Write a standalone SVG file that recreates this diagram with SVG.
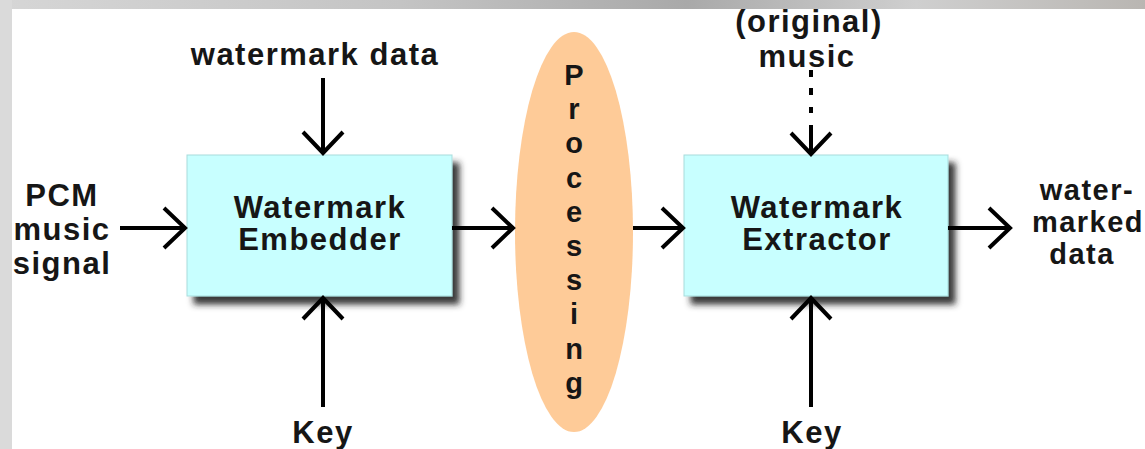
<svg xmlns="http://www.w3.org/2000/svg" width="1145" height="449" viewBox="0 0 1145 449">
<defs>
<style>
.t{font-family:"Liberation Sans",Arial,Helvetica,sans-serif;font-weight:bold;font-size:31px;letter-spacing:1.5px;fill:#161616;text-anchor:middle}
.o{font-size:29px}
.p{font-family:"Liberation Sans",Arial,Helvetica,sans-serif;font-weight:bold;font-size:29px;fill:#161616;text-anchor:middle}
.box{fill:#c8ffff;stroke:#a8dcdc;stroke-width:1;filter:url(#sh)}
.c{stroke:#000;stroke-width:4;fill:none}
</style>
<linearGradient id="band" x1="0" x2="1" y1="0" y2="0">
<stop offset="0" stop-color="#d6d6d6"/>
<stop offset="0.35" stop-color="#c4c4c4"/>
<stop offset="0.6" stop-color="#a9a9a9"/>
<stop offset="0.8" stop-color="#cfcfcf"/>
<stop offset="1" stop-color="#b9b6b2"/>
</linearGradient>
<filter id="sh" x="-10%" y="-10%" width="130%" height="140%">
<feDropShadow dx="7" dy="8" stdDeviation="3" flood-color="#222" flood-opacity="0.9"/>
</filter>
<marker id="ah" markerUnits="userSpaceOnUse" markerWidth="50" markerHeight="50" refX="0" refY="0" viewBox="-25 -25 50 50" orient="auto" overflow="visible">
<path d="M-21,-20 L0,0 L-21,20" stroke="#000" stroke-width="4" fill="none"/>
</marker>
</defs>
<rect x="0" y="0" width="1145" height="449" fill="#ffffff"/>
<rect x="0" y="0" width="1145" height="9" fill="url(#band)"/>
<rect x="0" y="0" width="12" height="449" fill="#dadada"/>

<g id="embedder">
<rect class="box" x="187" y="155" width="265" height="141"/>
<text class="t" x="320" y="218">Watermark</text>
<text class="t" x="320" y="250">Embedder</text>
</g>
<g id="extractor">
<rect class="box" x="684" y="155" width="264" height="141"/>
<text class="t" x="817" y="218">Watermark</text>
<text class="t" x="817" y="250">Extractor</text>
</g>
<g id="processing">
<ellipse cx="574" cy="232" rx="59" ry="200" fill="#fecb98"/>
<text class="p" x="574" y="85">P</text>
<text class="p" x="574" y="119">r</text>
<text class="p" x="574" y="153">o</text>
<text class="p" x="574" y="188">c</text>
<text class="p" x="574" y="222">e</text>
<text class="p" x="574" y="256">s</text>
<text class="p" x="574" y="290">s</text>
<text class="p" x="574" y="324">i</text>
<text class="p" x="574" y="359">n</text>
<text class="p" x="574" y="393">g</text>
</g>
<g id="input-pcm">
<text class="t" x="62" y="206">PCM</text>
<text class="t" x="62" y="240">music</text>
<text class="t" x="62" y="274">signal</text>
</g>
<g id="input-watermark-data">
<text class="t" x="315" y="65">watermark data</text>
</g>
<g id="input-original-music">
<text class="t" x="809" y="32">(original)</text>
<text class="t" x="807" y="67">music</text>
</g>
<g id="key-embed">
<text class="t" x="323" y="443">Key</text>
</g>
<g id="key-extract">
<text class="t" x="812" y="443">Key</text>
</g>
<g id="output">
<text class="t o" x="1087" y="200">water-</text>
<text class="t o" x="1088" y="232">marked</text>
<text class="t o" x="1082" y="264">data</text>
</g>

<g id="connectors">
<line class="c" x1="120" y1="228" x2="185" y2="228" marker-end="url(#ah)"/>
<line class="c" x1="452" y1="228" x2="513" y2="228" marker-end="url(#ah)"/>
<line class="c" x1="633" y1="228" x2="683" y2="228" marker-end="url(#ah)"/>
<line class="c" x1="948" y1="228" x2="1010" y2="228" marker-end="url(#ah)"/>
<line class="c" x1="323" y1="78" x2="323" y2="153" marker-end="url(#ah)"/>
<line class="c" x1="323" y1="407" x2="323" y2="298" marker-end="url(#ah)"/>
<line class="c" x1="811" y1="407" x2="811" y2="298" marker-end="url(#ah)"/>
<line class="c" x1="811" y1="70" x2="811" y2="154" stroke-dasharray="7 11 7 12 6 12 40 100" marker-end="url(#ah)"/>
</g>
</svg>
